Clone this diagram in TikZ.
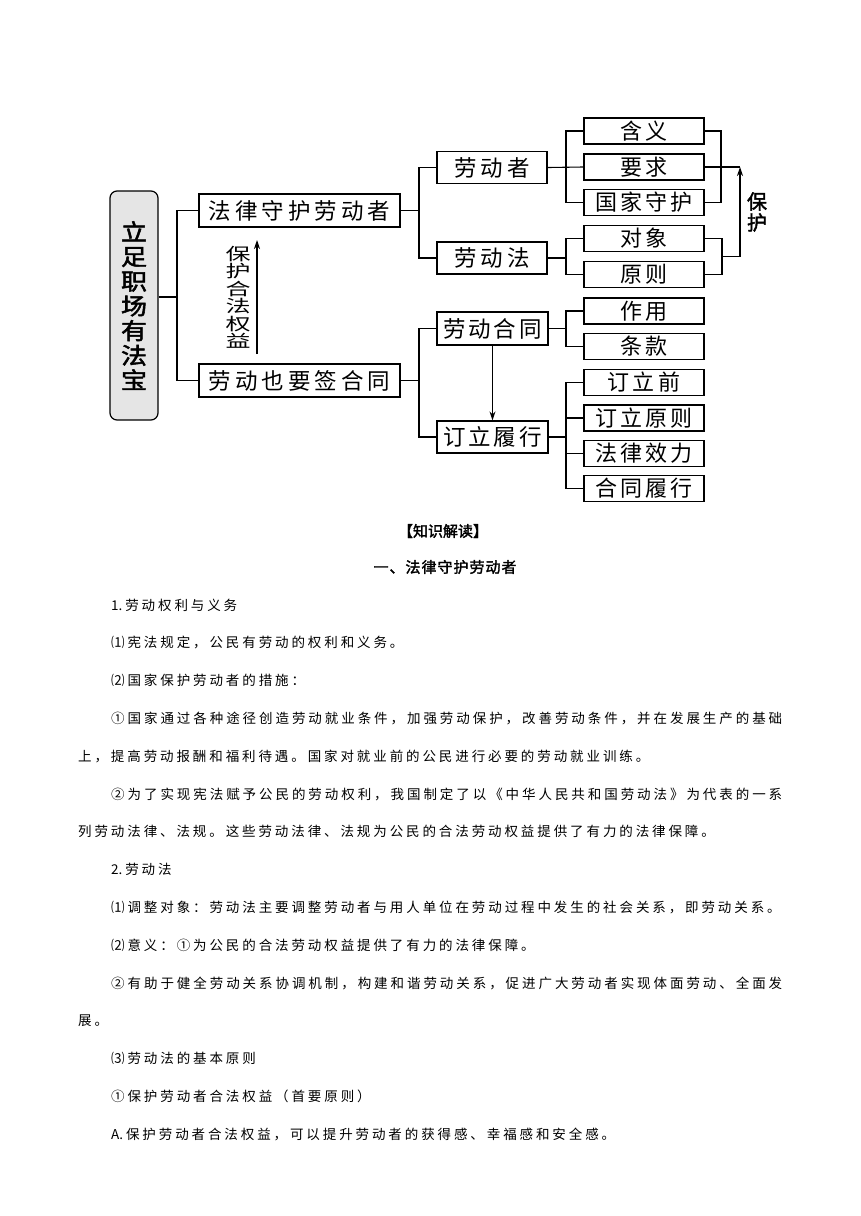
\documentclass[tikz,border=0pt]{standalone}
\usepackage{fontspec}
\usepackage{graphicx}
\usetikzlibrary{arrows.meta}
\newfontfamily\cjk[AutoFakeBold=2]{Noto Sans CJK SC}
\newdimen\cgap
\def\spreadaux#1{\ifx\relax#1\unskip\else#1\hskip\cgap plus 1fil\relax\expandafter\spreadaux\fi}
\newcommand\gl[2]{\cgap=#1\relax\hbox{\spreadaux#2\relax}}
\newcommand\gj[3]{\cgap=#1\relax\hbox to #2{\spreadaux#3\relax}}
\newcommand\bodyf{\cjk\fontsize{13.5}{16}\selectfont}
\newcommand\vs[1]{\scalebox{1}[0.88]{#1}}
\newcommand\vq[1]{\scalebox{1}[0.68]{#1}}
\tikzset{
  bx/.style={draw=black, line width=1.2pt, fill=white, inner sep=0pt, anchor=center},
  lvone/.style={bx, minimum width=201pt, minimum height=33pt, font=\cjk\fontsize{22.5}{24}\selectfont},
  lvtwo/.style={bx, minimum width=110pt, minimum height=32pt, font=\cjk\fontsize{22.5}{24}\selectfont},
  lvthree/.style={bx, minimum width=120pt, minimum height=26pt, font=\cjk\fontsize{22}{24}\selectfont},
  conn/.style={draw=black, line width=1.1pt},
  arr/.style={conn, -{Stealth[length=9pt,width=6pt]}},
  bodyline/.style={anchor=west, inner sep=0pt, font=\bodyf},
  head/.style={anchor=center, inner sep=0pt, font=\cjk\bfseries\fontsize{15}{17}\selectfont}
}
\begin{document}
\begin{tikzpicture}[x=1pt,y=-1pt]
\useasboundingbox (0,0) rectangle (860,1216);
% root
\node[draw=black, line width=1.2pt, fill=gray!20, rounded corners=7pt, minimum width=48pt, minimum height=229pt, inner sep=0pt, align=center, font=\cjk\bfseries\fontsize{26}{24.7}\selectfont] (R) at (134,305.5) {\vs{立}\\\vs{足}\\\vs{职}\\\vs{场}\\\vs{有}\\\vs{法}\\\vs{宝}};
% level one
\node[lvone] (A) at (299.5,210.5) {\gl{4pt}{法律守护劳动者}};
\node[lvone] (B) at (299.5,380.5) {\gl{4pt}{劳动也要签合同}};
% level two
\node[lvtwo] (C1) at (492,167.5) {\gl{4pt}{劳动者}};
\node[lvtwo] (C2) at (492,258) {\gl{4pt}{劳动法}};
\node[lvtwo, minimum width=111pt, minimum height=33pt] (D1) at (492.5,328.5) {\gl{3pt}{劳动合同}};
\node[lvtwo, minimum width=111pt] (D2) at (492.5,437) {\gl{3pt}{订立履行}};
% level three
\node[lvthree] (E1) at (644,131) {\gl{4pt}{含义}};
\node[lvthree] (E2) at (644,167) {\gl{4pt}{要求}};
\node[lvthree] (E3) at (644,202.5) {\gl{3pt}{国家守护}};
\node[lvthree] (E4) at (644,238.5) {\gl{4pt}{对象}};
\node[lvthree] (E5) at (644,274.5) {\gl{4pt}{原则}};
\node[lvthree] (F1) at (644,311) {\gl{4pt}{作用}};
\node[lvthree] (F2) at (644,346.5) {\gl{4pt}{条款}};
\node[lvthree] (G1) at (644,382.5) {\gl{4pt}{订立前}};
\node[lvthree] (G2) at (644,418) {\gl{3pt}{订立原则}};
\node[lvthree] (G3) at (644,453.5) {\gl{3pt}{法律效力}};
\node[lvthree] (G4) at (644,488.5) {\gl{3pt}{合同履行}};
% junction coordinates
\coordinate (j0) at (177,297);
\coordinate (j1) at (419,210.5);
\coordinate (j2) at (419,380.5);
\coordinate (k1) at (566,167.5);
\coordinate (k2) at (566,258);
\coordinate (k3) at (566,328.5);
\coordinate (k4) at (566,437);
\coordinate (r1) at (721,167);
\coordinate (r2) at (722,256.5);
\coordinate (t1) at (740,167);
\coordinate (t2) at (740,256.5);
\coordinate (p1) at (257,354);
\coordinate (p2) at (257,240);
% connectors
\draw[conn] (R.east |- j0) -- (j0);
\draw[conn] (A.west) -| (j0) |- (B.west);
\draw[conn] (A.east) -- (j1);
\draw[conn] (C1.west) -| (j1) |- (C2.west);
\draw[conn] (B.east) -- (j2);
\draw[conn] (D1.west) -| (j2) |- (D2.west);
\draw[conn] (C1.east) -- (E2.west);
\draw[conn] (E1.west) -| (k1) |- (E3.west);
\draw[conn] (C2.east) -- (k2);
\draw[conn] (E4.west) -| (k2) |- (E5.west);
\draw[conn] (D1.east) -- (k3);
\draw[conn] (F1.west) -| (k3) |- (F2.west);
\draw[conn] (D2.east) -- (k4);
\draw[conn] (G1.west) -| (k4) |- (G4.west);
\draw[conn] (k4 |- G2.west) -- (G2.west);
\draw[conn] (k4 |- G3.west) -- (G3.west);
\draw[conn] (E1.east) -| (r1) |- (E3.east);
\draw[conn] (E4.east) -| (r2) |- (E5.east);
\draw[conn] (E2.east) -- (t1);
\draw[conn] (r2) -- (t2);
\draw[arr] (t2) -- (t1);
\draw[arr] (p1) -- (p2);
\draw[arr] (D1) -- (D2);
% labels
\node[inner sep=0pt, align=center, font=\cjk\bfseries\fontsize{20}{21}\selectfont] (lbp) at (757,212) {保\\护};
\node[inner sep=0pt, align=center, font=\cjk\fontsize{25}{17.5}\selectfont] (lbq) at (238,297.5) {\vq{保}\\\vq{护}\\\vq{合}\\\vq{法}\\\vq{权}\\\vq{益}};
% text section
\node[head] (h1) at (443,531) {【知识解读】};
\node[head] (h2) at (445,567) {\gl{1pt}{一、法律守护劳动者}};
\node[bodyline] (l1) at (111,605) {\gl{2.9pt}{{1.}劳动权利与义务}};
\node[bodyline] (l2) at (111,642.8) {\gl{2.9pt}{⑴宪法规定，公民有劳动的权利和义务。}};
\node[bodyline] (l3) at (111,680.6) {\gl{2.9pt}{⑵国家保护劳动者的措施：}};
\node[bodyline] (l4) at (111,718.4) {\gj{2.9pt}{671pt}{①国家通过各种途径创造劳动就业条件，加强劳动保护，改善劳动条件，并在发展生产的基础}};
\node[bodyline] (l5) at (78,756.2) {\gl{2.9pt}{上，提高劳动报酬和福利待遇。国家对就业前的公民进行必要的劳动就业训练。}};
\node[bodyline] (l6) at (111,794) {\gj{2.9pt}{671pt}{②为了实现宪法赋予公民的劳动权利，我国制定了以《中华人民共和国劳动法》为代表的一系}};
\node[bodyline] (l7) at (78,831.8) {\gl{2.9pt}{列劳动法律、法规。这些劳动法律、法规为公民的合法劳动权益提供了有力的法律保障。}};
\node[bodyline] (l8) at (111,869.6) {\gl{2.9pt}{{2.}劳动法}};
\node[bodyline] (l9) at (111,907.4) {\gl{2.9pt}{⑴调整对象：劳动法主要调整劳动者与用人单位在劳动过程中发生的社会关系，即劳动关系。}};
\node[bodyline] (l10) at (111,945.2) {\gl{2.9pt}{⑵意义：①为公民的合法劳动权益提供了有力的法律保障。}};
\node[bodyline] (l11) at (111,983) {\gj{2.9pt}{671pt}{②有助于健全劳动关系协调机制，构建和谐劳动关系，促进广大劳动者实现体面劳动、全面发}};
\node[bodyline] (l12) at (78,1020.8) {\gl{2.9pt}{展。}};
\node[bodyline] (l13) at (111,1058.6) {\gl{2.9pt}{⑶劳动法的基本原则}};
\node[bodyline] (l14) at (111,1096.4) {\gl{2.9pt}{①保护劳动者合法权益（首要原则）}};
\node[bodyline] (l15) at (111,1134.2) {\gl{2.9pt}{{A.}保护劳动者合法权益，可以提升劳动者的获得感、幸福感和安全感。}};
\end{tikzpicture}
\end{document}
